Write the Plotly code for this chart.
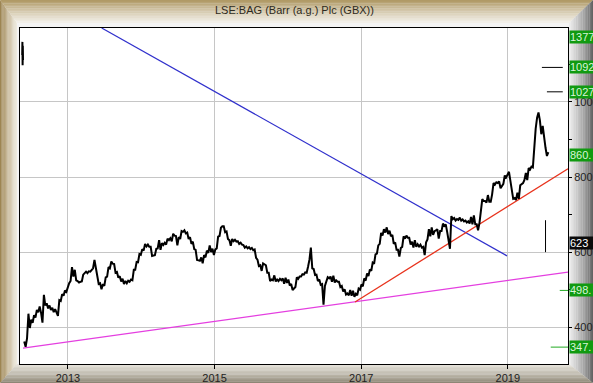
import plotly.graph_objects as go
import pandas as pd

TITLE = "LSE:BAG (Barr (a.g.) Plc (GBX))"

# ---- weekly closing prices (GBX) ----
p2012 = [362, 348, 370, 436, 398, 420, 412, 432, 426, 446, 440, 455, 438, 412, 486, 458, 464, 450, 458, 446,
         452, 440, 448, 436, 430, 472, 470, 488, 484, 498, 494]
p2013 = [517, 523, 560, 535, 553, 525, 523, 519, 521, 522, 540, 545, 548, 544, 549, 548, 553, 557, 579, 555,
         543, 515, 517, 501, 515, 510, 533, 535, 560, 557, 575, 569, 568, 545, 547, 532, 536, 522, 529, 515,
         523, 517, 524, 521, 527, 525, 553, 553, 574, 573, 595, 593]
p2014 = [608, 604, 622, 615, 620, 614, 614, 590, 591, 592, 609, 610, 632, 606, 624, 619, 625, 620, 636, 632,
         637, 629, 649, 644, 643, 618, 640, 635, 656, 654, 658, 650, 652, 635, 640, 622, 628, 608, 606, 579,
         578, 577, 586, 570, 592, 586, 604, 598, 618, 600, 609, 592]
p2015 = [607, 610, 641, 643, 665, 669, 669, 653, 655, 635, 632, 617, 635, 629, 633, 628, 629, 622, 625, 620,
         619, 612, 615, 610, 613, 608, 611, 605, 607, 585, 580, 563, 565, 550, 570, 567, 565, 545, 545, 523,
         527, 525, 538, 522, 527, 523, 529, 525, 530, 516, 532, 518]
p2016 = [527, 511, 515, 499, 503, 507, 533, 529, 535, 535, 541, 540, 546, 545, 561, 580, 612, 557, 555, 539,
         540, 523, 527, 513, 515, 460, 510, 519, 533, 530, 535, 521, 537, 519, 525, 521, 521, 507, 510, 495,
         501, 487, 490, 485, 499, 484, 497, 481, 489, 485, 503, 500]
p2017 = [514, 509, 530, 524, 543, 536, 554, 550, 572, 569, 594, 596, 618, 622, 651, 644, 661, 652, 666, 648,
         657, 642, 646, 622, 626, 606, 606, 588, 611, 614, 642, 636, 644, 638, 638, 620, 628, 612, 632, 614,
         621, 615, 620, 612, 614, 592, 626, 634, 661, 642, 666, 646]
p2018 = [656, 658, 661, 636, 656, 656, 676, 670, 674, 654, 636, 609, 696, 688, 691, 684, 688, 686, 692, 684,
         687, 682, 684, 679, 682, 676, 694, 674, 698, 674, 674, 658, 678, 709, 741, 736, 736, 732, 752, 734,
         734, 754, 784, 780, 786, 784, 788, 770, 776, 782, 804, 799]
p2019 = [814, 789, 771, 742, 744, 739, 758, 742, 778, 780, 784, 792, 811, 792, 824, 820, 828, 826, 886, 929,
         958, 972, 951, 914, 936, 899, 878, 856, 866]
block_starts = ["2012-05-28", "2013-01-07", "2014-01-06", "2015-01-05",
                "2016-01-04", "2017-01-02", "2018-01-01", "2019-01-07"]
blocks = [p2012, p2013, p2014, p2015, p2016, p2017, p2018, p2019]

# stray prints at the very start of the record
glitch_dates = ["2012-05-18", "2012-05-19", "2012-05-20", "2012-05-21", "2012-05-22"]
glitch_prices = [1125, 1160, 1098, 1150, 1112]

# trend lines
blue_dates = ["2013-06-18", "2018-12-28"]
blue_prices = [1197, 590]
red_dates = ["2016-12-01", "2019-10-28"]
red_prices = [467, 822]
pink_dates = ["2012-05-22", "2019-10-28"]
pink_prices = [344, 547]

# target markers
vert_dates = ["2019-07-08", "2019-07-08"]
vert_prices = [600, 685]
black_levels = [1092, 1027]
black_starts = ["2019-06-20", "2019-07-15"]
black_end = "2019-10-02"
green_levels = [498, 347]
green_starts = ["2019-09-17", "2019-08-03"]
green_end = "2019-10-28"

# right-hand price labels (as visible, cut by the image edge)
label_values = [1377, 1092, 1027, 860, 623, 498, 347]
label_texts = ["1377", "1092", "1027", "860.", "623", "498.", "347."]
label_kinds = ["g", "g", "g", "g", "k", "g", "g"]

y_ticks = [400, 600, 800, 1000]
x_range = ["2012-05-07", "2019-10-28"]
y_range = [302, 1197]

# ---------------------------------------------------------------
dates, prices = [], []
for start, vals in zip(block_starts, blocks):
    d = pd.date_range(start, periods=len(vals), freq="7D")
    dates += list(d.strftime("%Y-%m-%d"))
    prices += vals

fig = go.Figure()
fig.add_trace(go.Scatter(x=pink_dates, y=pink_prices, mode="lines",
                         line=dict(color="#e43fe0", width=1.3)))
fig.add_trace(go.Scatter(x=blue_dates, y=blue_prices, mode="lines",
                         line=dict(color="#3030cc", width=1.2)))
fig.add_trace(go.Scatter(x=red_dates, y=red_prices, mode="lines",
                         line=dict(color="#e8321c", width=1.3)))
fig.add_trace(go.Scatter(x=dates, y=prices, mode="lines",
                         line=dict(color="#000000", width=2.0)))
fig.add_trace(go.Scatter(x=glitch_dates, y=glitch_prices, mode="lines",
                         line=dict(color="#000000", width=2)))
fig.add_trace(go.Scatter(x=vert_dates, y=vert_prices, mode="lines",
                         line=dict(color="#000000", width=1)))
for lv, st in zip(black_levels, black_starts):
    fig.add_trace(go.Scatter(x=[st, black_end], y=[lv, lv], mode="lines",
                             line=dict(color="#000000", width=1)))
for lv, st in zip(green_levels, green_starts):
    fig.add_trace(go.Scatter(x=[st, green_end], y=[lv, lv], mode="lines",
                             line=dict(color="#22aa22", width=1)))

# ---- frame (gradient bands drawn as strips) ----
W, H = 593, 383
PL, PR, PT, PB = 20, 568, 28, 364
def X(px): return (px - PL) / (PR - PL)
def Y(py): return (PB - py) / (PB - PT)
def hx(c): return tuple(int(c[i:i + 2], 16) for i in (1, 3, 5))
def mix(c1, c2, t):
    a, b = hx(c1), hx(c2)
    return "rgb(%d,%d,%d)" % tuple(round(a[i] + (b[i] - a[i]) * t) for i in range(3))
def poly(pts):
    return "M " + " L ".join("%.5f,%.5f" % (X(px), Y(py)) for px, py in pts) + " Z"

L, T, R, B = 17, 23, 24, 19
N = 14
shapes = []
for k in range(N):
    t0, t1 = k / N, min(1.0, (k + 1.15) / N)
    tc = (k + 0.5) / N
    bands = [
        ([(t0 * L, t0 * T), (t1 * L, t1 * T), (t1 * L, H - t1 * B), (t0 * L, H - t0 * B)],
         mix("#977d47", "#f1ede2", tc ** 0.8)),
        ([(t0 * L, t0 * T), (W - t0 * R, t0 * T), (W - t1 * R, t1 * T), (t1 * L, t1 * T)],
         mix("#ab935c", "#f4f2ec", tc ** 0.8)),
        ([(W - t0 * R, t0 * T), (W - t1 * R, t1 * T), (W - t1 * R, H - t1 * B), (W - t0 * R, H - t0 * B)],
         mix("#555555", "#f0f0f0", tc ** 0.7)),
        ([(t0 * L, H - t0 * B), (W - t0 * R, H - t0 * B), (W - t1 * R, H - t1 * B), (t1 * L, H - t1 * B)],
         mix("#847c6a", "#e6e3db", tc ** 0.7)),
    ]
    for pts, col in bands:
        shapes.append(dict(type="path", xref="paper", yref="paper", path=poly(pts),
                           fillcolor=col, line=dict(width=0), layer="below"))

annotations = [dict(text=TITLE, xref="paper", yref="paper", x=X(294), y=Y(10),
                    xanchor="center", yanchor="middle", showarrow=False,
                    font=dict(family="Liberation Sans, Arial", size=11, color="#2e2a20"))]
for v, txt, kind in zip(label_values, label_texts, label_kinds):
    annotations.append(dict(
        text=txt, xref="paper", x=X(569), xanchor="left", width=23, align="left",
        yref="y", y=min(v, 1174), yanchor="middle", showarrow=False,
        bgcolor="#119a11" if kind == "g" else "#0a0a0a",
        borderpad=0, font=dict(family="Liberation Sans, Arial", size=11,
                               color="#d8f5d8" if kind == "g" else "#ffffff")))

fig.update_layout(
    width=W, height=H,
    margin=dict(l=PL, r=W - PR, t=PT, b=H - PB, pad=0),
    paper_bgcolor="#f4f4f4", plot_bgcolor="#ffffff",
    showlegend=False, hovermode=False,
    shapes=shapes, annotations=annotations,
    font=dict(family="Liberation Sans, Arial", size=11, color="#222222"),
)
fig.update_xaxes(type="date", range=x_range, dtick="M24", tick0="2013-01-01", tickformat="%Y",
                 automargin=False,
                 showgrid=True, gridcolor="#c6c6c6", gridwidth=1,
                 showline=True, linecolor="#000000", linewidth=1, mirror=True,
                 ticks="outside", ticklen=4, tickcolor="#000000",
                 tickfont=dict(size=11, color="#222222"), zeroline=False)
fig.update_yaxes(range=y_range, side="right", tickvals=y_ticks, automargin=False,
                 showgrid=True, gridcolor="#c6c6c6", gridwidth=1,
                 showline=True, linecolor="#000000", linewidth=1, mirror=True,
                 ticks="outside", ticklen=3, tickcolor="#000000",
                 minor=dict(dtick=100, tick0=0, ticks="outside", ticklen=3,
                            tickcolor="#000000", showgrid=False),
                 tickfont=dict(size=11, color="#222222"), zeroline=False)

fig.write_html("out.html", config={"displayModeBar": False, "staticPlot": True},
               post_script="document.body.style.margin='0';document.body.style.overflow='hidden';")
